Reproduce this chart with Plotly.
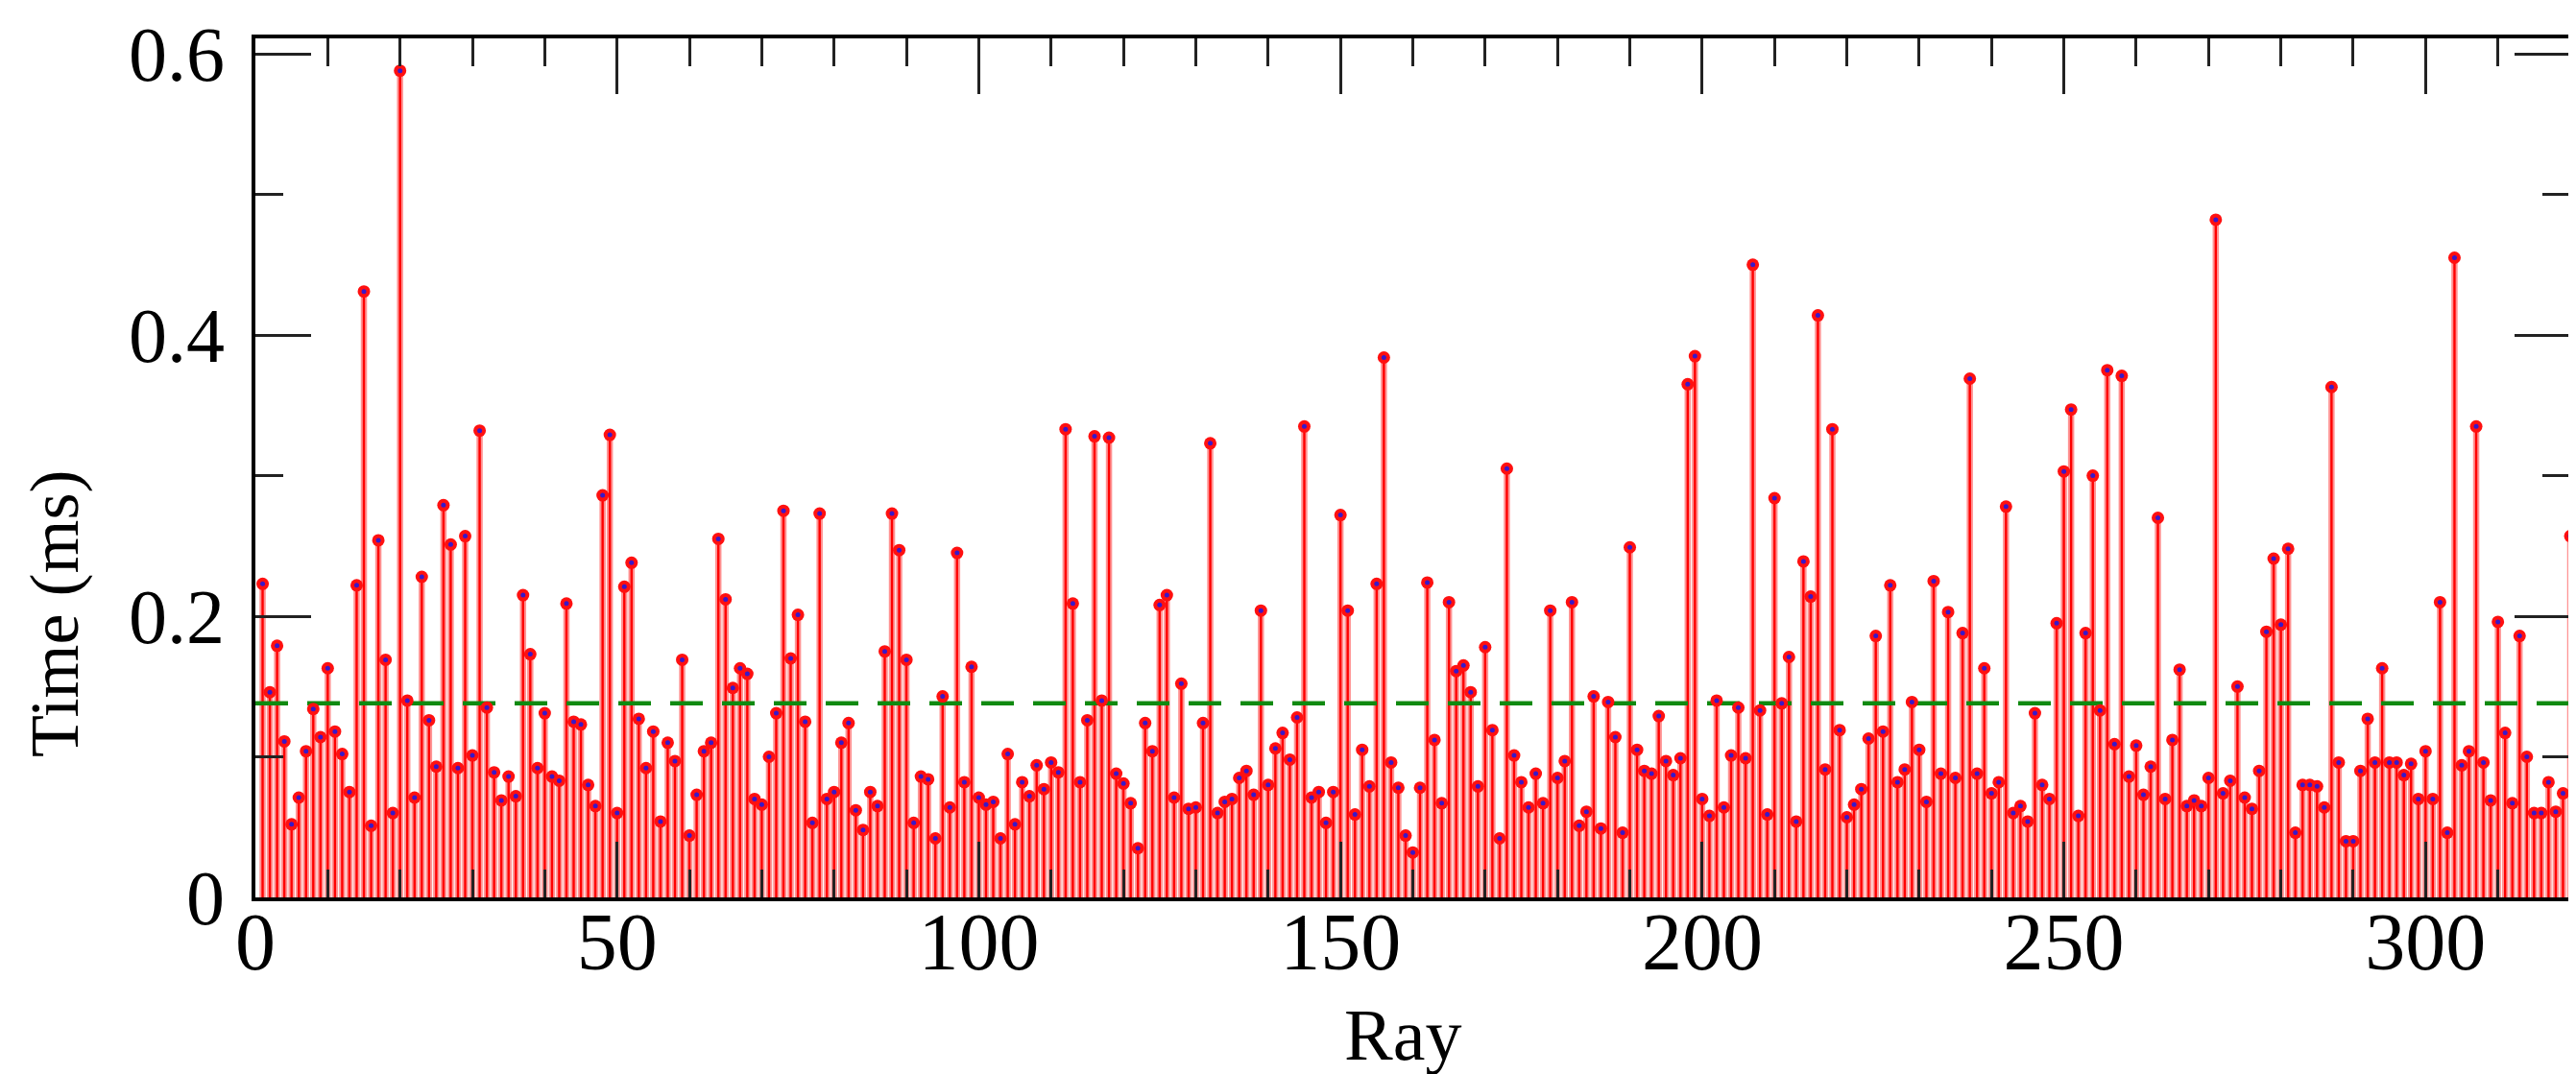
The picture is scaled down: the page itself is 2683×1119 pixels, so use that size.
import plotly.graph_objects as go

rays = list(range(1, 321))

times_001_040 = [0.223, 0.146, 0.179, 0.111, 0.052, 0.071, 0.104, 0.134, 0.114, 0.163,
                 0.118, 0.102, 0.075, 0.222, 0.431, 0.051, 0.254, 0.169, 0.060, 0.588,
                 0.140, 0.071, 0.228, 0.126, 0.093, 0.279, 0.251, 0.092, 0.257, 0.101,
                 0.332, 0.135, 0.089, 0.069, 0.086, 0.072, 0.215, 0.173, 0.092, 0.131]
times_041_080 = [0.086, 0.083, 0.209, 0.125, 0.123, 0.080, 0.065, 0.286, 0.329, 0.060,
                 0.221, 0.238, 0.127, 0.092, 0.118, 0.054, 0.110, 0.097, 0.169, 0.044,
                 0.073, 0.104, 0.110, 0.255, 0.212, 0.149, 0.163, 0.159, 0.070, 0.066,
                 0.100, 0.131, 0.275, 0.170, 0.201, 0.125, 0.053, 0.273, 0.070, 0.075]
times_081_120 = [0.110, 0.124, 0.062, 0.048, 0.075, 0.065, 0.175, 0.273, 0.247, 0.169,
                 0.053, 0.086, 0.084, 0.042, 0.143, 0.064, 0.245, 0.082, 0.164, 0.071,
                 0.066, 0.068, 0.042, 0.102, 0.052, 0.082, 0.072, 0.094, 0.077, 0.096,
                 0.089, 0.333, 0.209, 0.082, 0.126, 0.328, 0.140, 0.327, 0.088, 0.081]
times_121_160 = [0.067, 0.035, 0.124, 0.104, 0.208, 0.215, 0.071, 0.152, 0.063, 0.064,
                 0.124, 0.323, 0.060, 0.068, 0.070, 0.085, 0.090, 0.073, 0.204, 0.080,
                 0.106, 0.117, 0.098, 0.128, 0.335, 0.071, 0.075, 0.053, 0.075, 0.272,
                 0.204, 0.059, 0.105, 0.079, 0.223, 0.384, 0.096, 0.078, 0.044, 0.032]
times_161_200 = [0.078, 0.224, 0.112, 0.067, 0.210, 0.161, 0.165, 0.146, 0.079, 0.178,
                 0.119, 0.042, 0.305, 0.101, 0.082, 0.064, 0.088, 0.067, 0.204, 0.085,
                 0.097, 0.210, 0.051, 0.061, 0.143, 0.049, 0.139, 0.114, 0.046, 0.249,
                 0.105, 0.090, 0.088, 0.129, 0.097, 0.087, 0.099, 0.365, 0.385, 0.070]
times_201_240 = [0.058, 0.140, 0.064, 0.101, 0.135, 0.099, 0.450, 0.133, 0.059, 0.284,
                 0.138, 0.171, 0.054, 0.239, 0.214, 0.414, 0.091, 0.333, 0.119, 0.057,
                 0.066, 0.077, 0.113, 0.186, 0.118, 0.222, 0.082, 0.091, 0.139, 0.105,
                 0.068, 0.225, 0.088, 0.203, 0.085, 0.188, 0.369, 0.088, 0.163, 0.074]
times_241_280 = [0.082, 0.278, 0.060, 0.065, 0.054, 0.131, 0.080, 0.070, 0.195, 0.303,
                 0.347, 0.058, 0.188, 0.300, 0.133, 0.375, 0.109, 0.371, 0.086, 0.108,
                 0.073, 0.093, 0.270, 0.070, 0.112, 0.162, 0.065, 0.069, 0.065, 0.085,
                 0.482, 0.074, 0.083, 0.150, 0.071, 0.063, 0.090, 0.189, 0.241, 0.194]
times_281_320 = [0.248, 0.046, 0.080, 0.080, 0.079, 0.064, 0.363, 0.096, 0.040, 0.040,
                 0.090, 0.127, 0.096, 0.163, 0.096, 0.096, 0.087, 0.095, 0.070, 0.104,
                 0.070, 0.210, 0.046, 0.455, 0.094, 0.104, 0.335, 0.096, 0.069, 0.196,
                 0.117, 0.067, 0.186, 0.100, 0.060, 0.060, 0.082, 0.061, 0.074, 0.257]

mean_time = 0.138

x_tick_vals = [0, 50, 100, 150, 200, 250, 300]
x_tick_text = ["0", "50", "100", "150", "200", "250", "300"]
y_tick_vals = [0, 0.2, 0.4, 0.6]
y_tick_text = ["0", "0.2", "0.4", "0.6"]

times = (times_001_040 + times_041_080 + times_081_120 + times_121_160 +
         times_161_200 + times_201_240 + times_241_280 + times_281_320)

# stems (impulses) built from data
stem_x, stem_y = [], []
for r, t in zip(rays, times):
    stem_x += [r, r, None]
    stem_y += [0, t, None]

FONT = "Liberation Serif"

fig = go.Figure()
fig.add_trace(go.Scatter(x=stem_x, y=stem_y, mode="lines", hoverinfo="skip",
                         line=dict(color="rgba(255,40,40,0.5)", width=6.5),
                         showlegend=False, cliponaxis=False))
fig.add_trace(go.Scatter(x=stem_x, y=stem_y, mode="lines", hoverinfo="skip",
                         line=dict(color="#ff0000", width=2.4),
                         showlegend=False, cliponaxis=False))
fig.add_trace(go.Scatter(x=[0, 320], y=[mean_time, mean_time], mode="lines",
                         line=dict(color="#108a10", width=4.5, dash="34px,20px"),
                         showlegend=False))
fig.add_trace(go.Scatter(x=rays, y=times, mode="markers",
                         marker=dict(color="#ff1010", size=13, line=dict(width=0)),
                         showlegend=False, cliponaxis=False))
fig.add_trace(go.Scatter(x=rays, y=times, mode="markers",
                         marker=dict(color="#3a18c8", size=5, line=dict(width=0)),
                         showlegend=False, cliponaxis=False))

axis_common = dict(
    showline=True, linecolor="black", linewidth=4, mirror="ticks",
    ticks="inside", tickcolor="#222222", tickwidth=3, ticklen=58,
    showgrid=False, zeroline=False, ticklabeloverflow="allow", automargin=False,
)

fig.update_xaxes(range=[0, 320], tickvals=x_tick_vals, ticktext=x_tick_text,
                 minor=dict(ticks="inside", dtick=10, ticklen=29, tickwidth=3,
                            tickcolor="#222222", showgrid=False),
                 ticklabelstandoff=-30,
                 tickfont=dict(family=FONT, size=84, color="black"),
                 **axis_common)
fig.update_yaxes(range=[0, 0.611], tickvals=y_tick_vals, ticktext=y_tick_text,
                 minor=dict(ticks="inside", tickvals=[0.1, 0.3, 0.5], ticklen=29,
                            tickwidth=3, tickcolor="#222222", showgrid=False),
                 ticklabelstandoff=12,
                 tickfont=dict(family=FONT, size=80, color="black"),
                 **axis_common)

fig.add_annotation(text="Time (ms)", xref="paper", yref="paper",
                   x=-0.087, y=0.33, textangle=-90, showarrow=False,
                   xanchor="center", yanchor="middle",
                   font=dict(family=FONT, size=72, color="black"))
fig.add_annotation(text="Ray", xref="paper", yref="paper",
                   x=0.4956, y=-0.16, showarrow=False,
                   xanchor="center", yanchor="middle",
                   font=dict(family=FONT, size=76, color="black"))

fig.update_layout(
    width=2683, height=1119,
    margin=dict(l=258, r=14, t=32, b=192, autoexpand=False),
    paper_bgcolor="white", plot_bgcolor="white",
    showlegend=False,
)

fig.write_html("out.html")
